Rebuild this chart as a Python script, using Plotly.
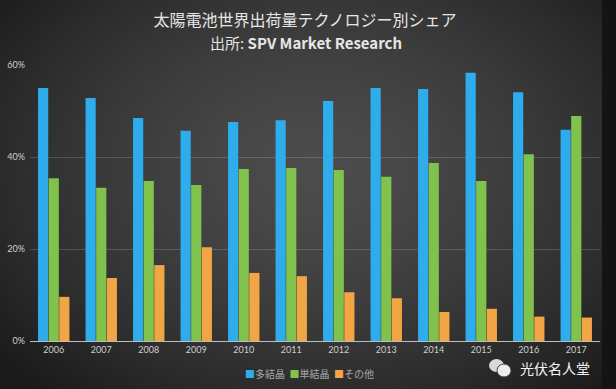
import base64
import struct
import zlib

import numpy as np
import plotly.graph_objects as go

# ---------------- data ----------------
years = ["2006", "2007", "2008", "2009", "2010", "2011",
         "2012", "2013", "2014", "2015", "2016", "2017"]
poly = [55.0, 52.8, 48.5, 45.7, 47.6, 48.0, 52.2, 55.0, 54.8, 58.3, 54.1, 45.9]
mono = [35.4, 33.3, 34.8, 33.9, 37.4, 37.6, 37.2, 35.7, 38.7, 34.8, 40.6, 48.9]
other = [9.6, 13.7, 16.5, 20.4, 14.8, 14.1, 10.6, 9.3, 6.3, 7.0, 5.3, 5.1]
series_names = ["多結晶", "単結晶", "その他"]
y_ticks = [0, 20, 40, 60]

colors = ["#2eaceb", "#80c24c", "#f2a545"]

# ---------------- background (radial vignette) ----------------
W, H = 616, 389
yy, xx = np.mgrid[0:H, 0:W].astype(float)
d = np.sqrt(((xx - 320) / 420.0) ** 2 + ((yy - 170) / 300.0) ** 2)
val = 76 - (76 - 26) * np.clip(d, 0, 1) ** 1.5
val[:, 602:] = 20
img = np.clip(val, 0, 255).astype(np.uint8)
rgb = np.stack([img, img, img], axis=-1)
prev = np.vstack([np.zeros((1, W, 3), np.uint8), rgb[:-1]])
filt = (rgb.astype(np.int16) - prev.astype(np.int16)) % 256
raw = b"".join(b"\x02" + filt[r].astype(np.uint8).tobytes() for r in range(H))


def chunk(tag, data):
    c = struct.pack(">I", len(data)) + tag + data
    return c + struct.pack(">I", zlib.crc32(tag + data) & 0xffffffff)


png = (b"\x89PNG\r\n\x1a\n"
       + chunk(b"IHDR", struct.pack(">IIBBBBB", W, H, 8, 2, 0, 0, 0))
       + chunk(b"IDAT", zlib.compress(raw, 9))
       + chunk(b"IEND", b""))
bg_uri = "data:image/png;base64," + base64.b64encode(png).decode()

# ---------------- figure ----------------
fig = go.Figure()
for name, vals, col in zip(series_names, [poly, mono, other], colors):
    fig.add_bar(x=years, y=vals, name=name, marker_color=col,
                marker_line_width=0, showlegend=False)

L, R, T, B = 30, 16, 65, 48
pw, ph = W - L - R, H - T - B


def px_x(px):
    return (px - L) / pw


def px_y(py):
    return (H - B - py) / ph


legend_text = "  ".join(
    f"<span style='color:{c}'>■</span>{n}" for n, c in zip(series_names, colors))

fig.update_layout(
    width=W, height=H,
    margin=dict(l=L, r=R, t=T, b=B, pad=0, autoexpand=False),
    paper_bgcolor="#333333",
    plot_bgcolor="rgba(0,0,0,0)",
    barmode="group",
    bargap=0.33,
    bargroupgap=0.04,
    showlegend=False,
    title=dict(text="太陽電池世界出荷量テクノロジー別シェア",
               x=305 / W, xanchor="center", y=1 - 20 / H, yanchor="middle",
               automargin=False,
               font=dict(family="Noto Sans CJK JP", size=16, color="#e6e6e6")),
    images=[dict(source=bg_uri, xref="paper", yref="paper",
                 x=-L / pw, y=(H - B) / ph, sizex=W / pw, sizey=H / ph,
                 xanchor="left", yanchor="top", sizing="stretch",
                 layer="below")],
    shapes=[
        dict(type="circle", xref="paper", yref="paper",
             x0=px_x(489), x1=px_x(504), y0=px_y(372), y1=px_y(359),
             fillcolor="#d8d8d8", line_width=0),
        dict(type="circle", xref="paper", yref="paper",
             x0=px_x(497), x1=px_x(511), y0=px_y(377), y1=px_y(364),
             fillcolor="#ededed", line=dict(color="#444444", width=1)),
    ],
    annotations=[
        dict(text="出所: <b>SPV Market Research</b>", xref="paper", yref="paper",
             x=px_x(306), y=px_y(42), xanchor="center",
             yanchor="middle", showarrow=False,
             font=dict(family="Noto Sans CJK JP", size=15, color="#e6e6e6")),
        dict(text=legend_text, xref="paper", yref="paper",
             x=px_x(309), y=px_y(373), xanchor="center",
             yanchor="middle", showarrow=False,
             font=dict(family="Noto Sans CJK JP", size=10, color="#a8a8a8")),
        dict(text="光伏名人堂", xref="paper", yref="paper",
             x=px_x(555), y=px_y(368), xanchor="center",
             yanchor="middle", showarrow=False,
             font=dict(family="Noto Sans CJK SC", size=14, color="#f4f4f4")),
    ],
)

fig.update_xaxes(type="category", showline=True, linecolor="#bdbdbd",
                 linewidth=1, ticks="", showgrid=False, automargin=False,
                 tickfont=dict(family="Lato", size=9, color="#cfcfcf"))
fig.update_yaxes(range=[0, 60], tickvals=y_ticks,
                 ticktext=[f"{v}%" for v in y_ticks], automargin=False,
                 showgrid=True, gridcolor="rgba(255,255,255,0.16)",
                 gridwidth=1, zeroline=False, showline=False, ticks="",
                 ticklabelstandoff=4,
                 tickfont=dict(family="Lato", size=9, color="#cfcfcf"))

fig.write_html("out.html", config={"displayModeBar": False},
               post_script="document.body.style.margin='0';"
                           "document.body.style.overflow='hidden';")
